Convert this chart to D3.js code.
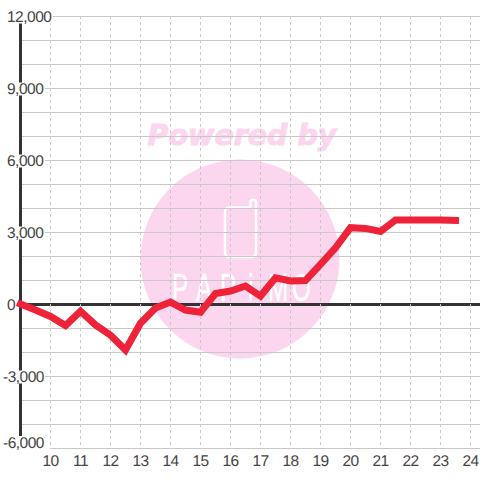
<!DOCTYPE html>
<html><head><meta charset="utf-8">
<script src="https://cdn.jsdelivr.net/npm/d3@7"></script>
<style>html,body{margin:0;padding:0;background:#fff}svg{display:block}text{font-family:"Liberation Sans",sans-serif}</style>
</head><body><svg id="c" width="480" height="480"></svg>
<script>
const hours=[9,9.5,10,10.5,11,11.5,12,12.5,13,13.5,14,14.5,15,15.5,16,16.5,17,17.5,18,18.5,19,19.5,20,20.5,21,21.5,22,22.5,23,23.5];
const values=[0,-250,-520,-900,-300,-870,-1300,-1920,-800,-170,80,-250,-340,440,540,750,330,1090,960,980,1650,2340,3180,3150,3020,3500,3500,3500,3500,3480];
const xTicks=[10,11,12,13,14,15,16,17,18,19,20,21,22,23,24];
const yGrid=d3.range(-6000,12001,1000);
const yLabels=[12000,9000,6000,3000,0,-3000,-6000];
const logoLetters=["P","A","P","i","M","O"];
const svg=d3.select("#c");
const x=d3.scaleLinear().domain([9,24]).range([20.5,470.5]);
const y=d3.scaleLinear().domain([-6000,12000]).range([448,16]);
const fmt=d=>d3.format(",")(d).replace("\u2212","-");
// watermark
svg.append("circle").attr("cx",240).attr("cy",259).attr("r",99.5).attr("fill","#fcd6ee");
svg.append("text").text("Powered by").attr("x",242).attr("y",145).attr("text-anchor","middle")
 .attr("fill","#fcd6ee").attr("stroke","#fcd6ee").attr("stroke-width",1)
 .style("font-family","DejaVu Sans").style("font-weight","bold").style("font-style","italic").style("font-size","28.5px");
svg.append("path").attr("d","M229 207.5H250.5V202a2.8 2.8 0 0 1 5.5 0V253a4 4 0 0 1-4 4H229a4 4 0 0 1-4-4V211.5a4 4 0 0 1 4-4Z")
 .attr("fill","none").attr("stroke","#fff").attr("stroke-width",2.5);
const logoX=d3.scalePoint().domain(d3.range(logoLetters.length)).range([172,292]);
svg.selectAll(".logo").data(logoLetters).join("text").text(d=>d)
 .attr("transform",(d,i)=>`translate(${logoX(i)+(d==="i"?4:0)},301) scale(0.62,1)`)
 .attr("fill","#fff").attr("stroke","#fff").attr("stroke-width",.4).style("font-size","39px");
// grid
svg.selectAll(".h").data(yGrid).join("line").attr("x1",20).attr("x2",480).attr("y1",d=>Math.round(y(d))+.5).attr("y2",d=>Math.round(y(d))+.5)
 .attr("stroke",d=>d===0?"#333":"#c8c8c8").attr("stroke-width",d=>d===0?3:1);
svg.selectAll(".v").data(xTicks).join("line").attr("x1",d=>x(d)).attr("x2",d=>x(d)).attr("y1",16).attr("y2",448)
 .attr("stroke","#c8c8c8").attr("stroke-width",1).attr("stroke-dasharray","3 3");
svg.append("line").attr("x1",x(9)).attr("x2",x(9)).attr("y1",16).attr("y2",448).attr("stroke","#333").attr("stroke-width",3);
// label boxes and labels
const labelRight=d=>d===0?18:d===12000?53:d===-6000?50:45;
const labelY=d=>d===-6000?y(d)-0.5:y(d)+6;
svg.selectAll(".b").data(yLabels).join("rect").attr("x",0).attr("width",labelRight)
 .attr("y",d=>labelY(d)-11.5).attr("height",d=>d===-6000?14:13).attr("fill","#fff");
svg.selectAll(".yl").data(yLabels).join("text").text(fmt).attr("x",d=>d<0?3:7).attr("y",labelY).attr("fill","#444")
 .style("font-size","15.5px").style("letter-spacing","-0.5px").style("text-rendering","geometricPrecision");
svg.selectAll(".xl").data(xTicks).join("text").text(d=>d).attr("x",d=>x(d)).attr("y",465.5).attr("text-anchor","middle").attr("fill","#444")
 .style("font-size","15.5px").style("letter-spacing","-0.5px").style("text-rendering","geometricPrecision");
svg.append("path").datum(hours.map((h,i)=>[h,values[i]])).attr("fill","none").attr("stroke","#ee2238").attr("stroke-width",7)
 .attr("stroke-linejoin","miter").attr("stroke-linecap","square").attr("d",d3.line().x(d=>x(d[0])).y(d=>y(d[1])));
</script></body></html>
